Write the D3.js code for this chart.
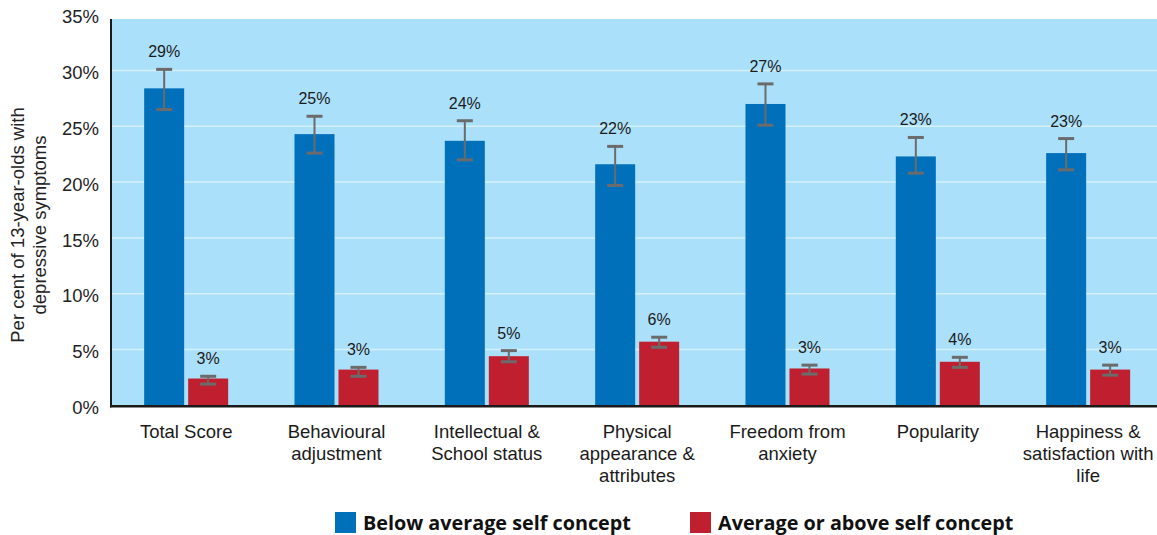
<!DOCTYPE html>
<html>
<head>
<meta charset="utf-8">
<script src="https://cdn.jsdelivr.net/npm/d3@7"></script>
<style>
  html, body { margin: 0; padding: 0; background: #ffffff; }
  svg { display: block; }
</style>
</head>
<body>
<svg id="chart" width="1157" height="535"></svg>
<script>
// ---- data ----
const categories = [
  ["Total Score"],
  ["Behavioural", "adjustment"],
  ["Intellectual &", "School status"],
  ["Physical", "appearance &", "attributes"],
  ["Freedom from", "anxiety"],
  ["Popularity"],
  ["Happiness &", "satisfaction with", "life"]
];
const seriesNames = ["Below average self concept", "Average or above self concept"];
const belowValues = [28.4, 24.3, 23.7, 21.6, 27.0, 22.3, 22.6];
const belowLow    = [26.5, 22.6, 22.0, 19.7, 25.1, 20.8, 21.1];
const belowHigh   = [30.1, 25.9, 25.5, 23.2, 28.8, 24.0, 23.9];
const belowLabels = ["29%", "25%", "24%", "22%", "27%", "23%", "23%"];
const aboveValues = [2.4, 3.2, 4.4, 5.7, 3.3, 3.9, 3.2];
const aboveLow    = [1.9, 2.6, 3.9, 5.2, 2.8, 3.4, 2.7];
const aboveHigh   = [2.6, 3.4, 4.9, 6.1, 3.6, 4.3, 3.6];
const aboveLabels = ["3%", "3%", "5%", "6%", "3%", "4%", "3%"];
const yTicks = [0, 5, 10, 15, 20, 25, 30, 35];
const yTitle = ["Per cent of 13-year-olds with", "depressive symptoms"];

// ---- layout ----
const svg = d3.select("#chart");
const plotLeft = 111, plotTop = 19, plotBottom = 405.3;
const bandStep = 150.33;
const colors = ["#0070bb", "#c01f2f"];
const font = "'Liberation Sans', Arial, Helvetica, sans-serif";

const x = d3.scaleBand()
  .domain(d3.range(categories.length))
  .range([plotLeft, plotLeft + bandStep * categories.length])
  .padding(0);
const y = d3.scaleLinear().domain([0, 35]).range([plotBottom, plotBottom - 35 * 11.16]);
const xSub = d3.scaleBand().domain([0, 1]).range([-42, 42]).paddingInner(0.0909);

// background
svg.append("rect")
  .attr("x", plotLeft).attr("y", plotTop)
  .attr("width", 1157 - plotLeft).attr("height", plotBottom - plotTop)
  .attr("fill", "#abe0fa");

// gridlines
svg.append("g").selectAll("line")
  .data(yTicks.filter(d => d > 0 && y(d) > plotTop))
  .join("line")
  .attr("x1", plotLeft).attr("x2", 1157)
  .attr("y1", d => y(d)).attr("y2", d => y(d))
  .attr("stroke", "#d4f0fd").attr("stroke-width", 1.5);

// y tick labels
svg.append("g").selectAll("text")
  .data(yTicks)
  .join("text")
  .attr("x", 99).attr("y", d => y(d) + 2)
  .attr("dy", "0.36em")
  .attr("text-anchor", "end")
  .attr("font-family", font).attr("font-size", 18.5)
  .attr("fill", "#222")
  .text(d => d + "%");

// y title
const yt = svg.append("text")
  .attr("transform", "translate(0,225) rotate(-90)")
  .attr("text-anchor", "middle")
  .attr("font-family", font).attr("font-size", 18.5)
  .attr("fill", "#222");
yTitle.forEach((t, i) => {
  yt.append("tspan").attr("x", 0).attr("y", 24 + i * 22).text(t);
});

// bars
const series = [
  { v: belowValues, lo: belowLow, hi: belowHigh, lab: belowLabels },
  { v: aboveValues, lo: aboveLow, hi: aboveHigh, lab: aboveLabels }
];
series.forEach((s, si) => {
  const g = svg.append("g");
  const cx = i => x(i) + x.bandwidth() / 2 + xSub(si);
  const mid = i => cx(i) + xSub.bandwidth() / 2;
  g.selectAll("rect").data(s.v).join("rect")
    .attr("x", (d, i) => cx(i))
    .attr("y", d => y(d))
    .attr("width", xSub.bandwidth())
    .attr("height", d => y(0) - y(d))
    .attr("fill", colors[si]);
  // error bars
  const eb = g.append("g").attr("stroke", "#6b6b6b");
  s.v.forEach((d, i) => {
    const m = mid(i);
    eb.append("line").attr("x1", m).attr("x2", m)
      .attr("y1", y(s.hi[i])).attr("y2", y(s.lo[i])).attr("stroke-width", 2);
    [s.hi[i], s.lo[i]].forEach(v => {
      eb.append("line").attr("x1", m - 8).attr("x2", m + 8)
        .attr("y1", y(v)).attr("y2", y(v)).attr("stroke-width", 3);
    });
  });
  g.selectAll("text").data(s.lab).join("text")
    .attr("x", (d, i) => mid(i))
    .attr("y", (d, i) => y(s.hi[i]) - 12)
    .attr("text-anchor", "middle")
    .attr("font-family", font).attr("font-size", 16)
    .attr("fill", "#1a1a1a")
    .text(d => d);
});

// axes lines
svg.append("line").attr("x1", plotLeft).attr("x2", plotLeft)
  .attr("y1", plotTop).attr("y2", plotBottom + 2)
  .attr("stroke", "#1a1a1a").attr("stroke-width", 2);
svg.append("line").attr("x1", plotLeft - 1).attr("x2", 1157)
  .attr("y1", plotBottom + 1).attr("y2", plotBottom + 1)
  .attr("stroke", "#1a1a1a").attr("stroke-width", 2.5);

// category labels
const cl = svg.append("g");
categories.forEach((lines, i) => {
  const t = cl.append("text")
    .attr("text-anchor", "middle")
    .attr("font-family", font).attr("font-size", 18.5)
    .attr("fill", "#1a1a1a");
  lines.forEach((ln, j) => {
    t.append("tspan").attr("x", x(i) + x.bandwidth() / 2)
      .attr("y", 438 + j * 22).text(ln);
  });
});

// legend
const legendX = [335, 690];
seriesNames.forEach((n, i) => {
  svg.append("rect").attr("x", legendX[i]).attr("y", 512)
    .attr("width", 21).attr("height", 21).attr("fill", colors[i]);
  svg.append("text").attr("x", legendX[i] + 28).attr("y", 529.5)
    .attr("font-family", "'Open Sans', 'Noto Sans', sans-serif")
    .attr("font-weight", "bold").attr("font-size", 19.8)
    .attr("fill", "#111")
    .text(n);
});
</script>
</body>
</html>
